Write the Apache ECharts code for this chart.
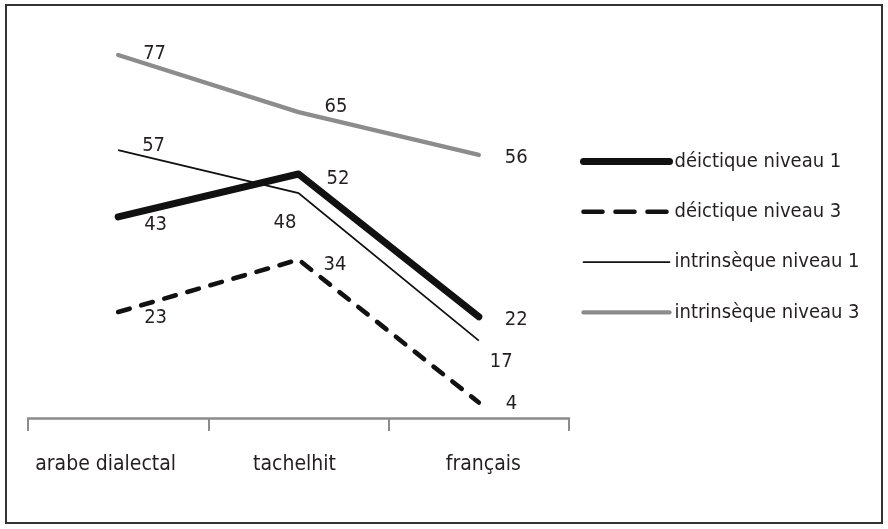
<!DOCTYPE html>
<html>
<head>
<meta charset="utf-8">
<script src="https://cdn.jsdelivr.net/npm/echarts@6/dist/echarts.min.js"></script>
<style>
html,body{margin:0;padding:0;background:#fff;}
#chart{width:888px;height:529px;}
</style>
</head>
<body>
<div id="chart"></div>
<script>
// ---- data ----
const categories = ['arabe dialectal', 'tachelhit', 'français'];
const seriesNames = ['déictique niveau 1', 'déictique niveau 3', 'intrinsèque niveau 1', 'intrinsèque niveau 3'];
const deictique1 = [43, 52, 22];
const deictique3 = [23, 34, 4];
const intrinseque1 = [57, 48, 17];
const intrinseque3 = [77, 65, 56];

// ---- styling (label placement relative to each point) ----
const labelOffsets = [
  [[26, 8], [28, 4.5], [26, 3]],
  [[26, 6], [25, 5], [27, 1]],
  [[24, -4.5], [-25, 29.5], [11, 21]],
  [[25, -1.5], [26, -5.5], [26, 3]]
];
const categoryPadding = [[0, 25, 0, 0], [0, 8, 0, 0], [0, 0, 0, 9]];
const lineStyles = [
  {color: '#111111', width: 7, type: 'solid', cap: 'round', join: 'round'},
  {color: '#111111', width: 4.6, type: [12, 12], cap: 'round', join: 'round'},
  {color: '#111111', width: 1.8, type: 'solid', cap: 'butt', join: 'miter'},
  {color: '#8c8c8c', width: 4.3, type: 'solid', cap: 'round', join: 'round'}
];
const legendDash = [null, [19, 13], null, null];
const values = [deictique1, deictique3, intrinseque1, intrinseque3];

const textFont = "'DejaVu Sans Condensed', 'Liberation Sans Narrow', sans-serif";
const numFont = "'DejaVu Sans Condensed', 'Liberation Sans Narrow', sans-serif";
const textColor = '#231f20';

const chart = echarts.init(document.getElementById('chart'), null, {renderer: 'canvas'});

const series = [];
values.forEach((vals, i) => {
  series.push({
    name: seriesNames[i],
    type: 'line',
    data: vals,
    symbol: 'none',
    itemStyle: {color: lineStyles[i].color},
    lineStyle: lineStyles[i],
    z: 2,
    silent: true,
    animation: false
  });
});
values.forEach((vals, i) => {
  series.push({
    name: seriesNames[i] + ' labels',
    type: 'scatter',
    symbolSize: 0.01,
    silent: true,
    animation: false,
    z: 5,
    itemStyle: {opacity: 1, color: 'rgba(0,0,0,0)'},
    data: vals.map((v, j) => ({
      value: v,
      label: {offset: labelOffsets[i][j]}
    })),
    label: {
      show: true,
      position: 'right',
      distance: 0,
      align: 'left',
      verticalAlign: 'middle',
      formatter: p => String(p.value),
      fontFamily: numFont,
      fontSize: 20,
      color: textColor,
      opacity: 1
    }
  });
});

const rich = {};
categories.forEach((c, i) => {
  rich['c' + i] = {padding: categoryPadding[i], fontFamily: textFont, fontSize: 21, color: textColor};
});

chart.setOption({
  animation: false,
  backgroundColor: '#ffffff',
  graphic: [{
    type: 'rect',
    shape: {x: 6, y: 5, width: 876, height: 518},
    style: {fill: 'none', stroke: '#333333', lineWidth: 2},
    silent: true,
    z: 100
  }],
  grid: {left: 28, right: 319, top: 40.7, bottom: 107.5, containLabel: false},
  legend: {
    data: seriesNames.map((n, i) => legendDash[i]
      ? {name: n, lineStyle: {type: legendDash[i]}}
      : {name: n}),
    orient: 'vertical',
    left: 580,
    top: 151.5,
    padding: 0,
    itemWidth: 86,
    itemHeight: 20,
    itemGap: 30.3,
    selectedMode: false,
    itemStyle: {opacity: 0},
    lineStyle: {width: 'inherit', type: 'inherit', cap: 'round'},
    textStyle: {fontFamily: textFont, fontSize: 20, color: textColor}
  },
  xAxis: {
    type: 'category',
    data: categories,
    boundaryGap: true,
    offset: -3.5,
    axisLine: {onZero: false, lineStyle: {color: '#8c8c8c', width: 2.5}},
    axisTick: {show: true, interval: 0, length: 13, lineStyle: {color: '#8c8c8c', width: 2}},
    axisLabel: {
      interval: 0,
      margin: 36,
      formatter: (v, idx) => '{c' + idx + '|' + v + '}',
      rich: rich,
      fontFamily: textFont, fontSize: 21, color: textColor
    }
  },
  yAxis: {
    type: 'value',
    min: 0,
    max: 80,
    show: false,
    splitLine: {show: false}
  },
  series: series
});
</script>
</body>
</html>
